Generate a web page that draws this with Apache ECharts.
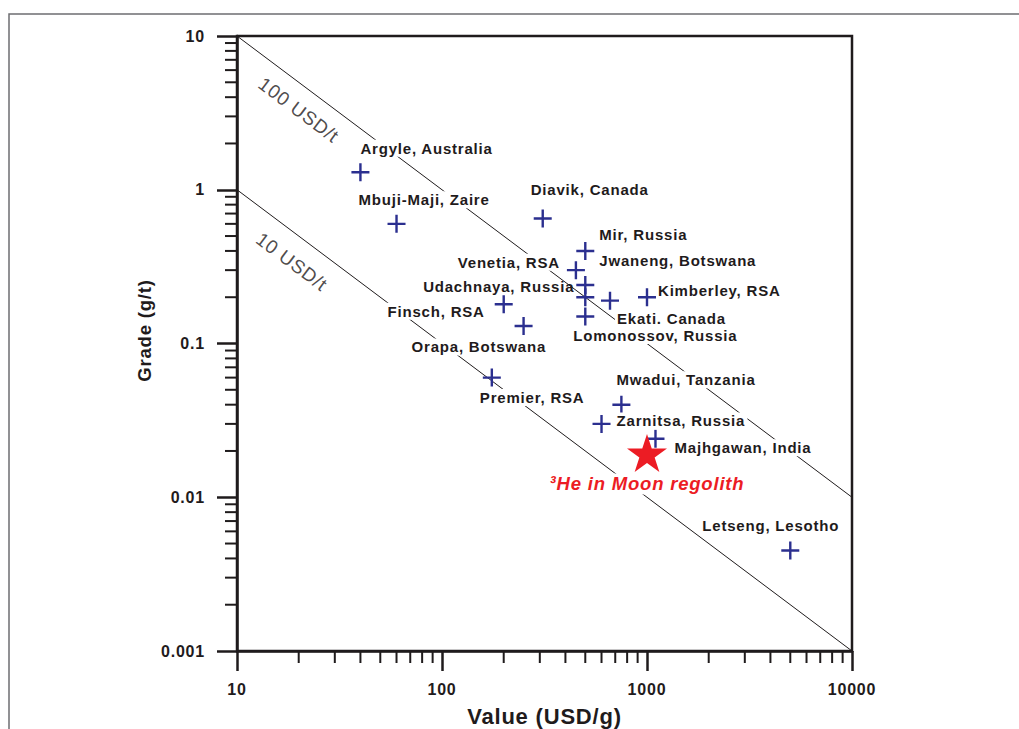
<!DOCTYPE html>
<html>
<head>
<meta charset="utf-8">
<title>Diamond mines: grade vs value</title>
<script src="https://cdn.jsdelivr.net/npm/echarts@6/dist/echarts.min.js"></script>
<style>
  html, body { margin: 0; padding: 0; background: #fff; }
  #chart { position: absolute; left: 0; top: 0; width: 1019px; height: 729px; }
  /* the typeface is set slightly tracked */
  #chart svg text { letter-spacing: 0.8px; }
</style>
</head>
<body>
<div id="chart"></div>
<script>
// ---- data -------------------------------------------------------------
const mineNames = [
  'Argyle, Australia', 'Mbuji-Maji, Zaire', 'Diavik, Canada', 'Mir, Russia',
  'Venetia, RSA', 'Jwaneng, Botswana', 'Udachnaya, Russia', 'Kimberley, RSA',
  'Ekati. Canada', 'Lomonossov, Russia', 'Finsch, RSA', 'Orapa, Botswana',
  'Premier, RSA', 'Mwadui, Tanzania', 'Zarnitsa, Russia', 'Majhgawan, India',
  'Letseng, Lesotho'
];
// value of the diamonds, USD per gram
const mineValue = [40, 60, 310, 500, 450, 500, 500, 1000, 660, 500, 200, 250, 175, 750, 600, 1100, 5000];
// ore grade, grams per tonne
const mineGrade = [1.3, 0.6, 0.65, 0.4, 0.3, 0.24, 0.2, 0.2, 0.19, 0.15, 0.18, 0.13, 0.06, 0.04, 0.03, 0.024, 0.0045];

const moonName = '³He in Moon regolith';
const moonValue = [1000];
const moonGrade = [0.02];

// iso-value lines (value x grade = USD per tonne of ore)
const isoNames = ['100 USD/t', '10 USD/t'];
const isoLines = [
  [[10, 10], [10000, 0.01]],
  [[10, 1], [10000, 0.001]]
];
const isoLabelAnchors = [[20, 3.3], [18.5, 0.34]];

const xTickLabels = ['10', '100', '1000', '10000'];
const yTickLabels = ['0.001', '0.01', '0.1', '1', '10'];
const minorMultiples = [2, 3, 4, 5, 6, 7, 8, 9];

// ---- layout & style ---------------------------------------------------
const INK = '#1f1b1c';
const CROSS_BLUE = '#2b2f8f';
const STAR_RED = '#ec1c24';
const FONT = '"Liberation Sans", Arial, Helvetica, sans-serif';
const TRACK = 0.8;

// label placement per mine: [dx, dy, align, knocks out lines behind it]
const mineLabelLayout = [
  [0, -24, 'left', true],
  [-38, -24, 'left', true],
  [-12, -29, 'left', true],
  [14, -16, 'left', true],
  [-16, -8, 'right', true],
  [14, -25, 'left', true],
  [-11, -11, 'right', false],
  [11, -7, 'left', true],
  [7, 18, 'left', true],
  [-12, 19, 'left', true],
  [-19, 7, 'right', true],
  [-112, 21, 'left', true],
  [-12, 20, 'left', true],
  [-5, -25, 'left', true],
  [15, -3, 'left', true],
  [19, 9, 'left', true],
  [-88, -25, 'left', true]
];

const CROSS_PATH = 'path://M7.8,0H10.2V7.8H18V10.2H10.2V18H7.8V10.2H0V7.8H7.8Z';
const STAR_PATH = 'path://M50,0L61.23,34.55L97.55,34.55L68.17,55.9L79.39,90.45L50,69.1L20.61,90.45L31.83,55.9L2.45,34.55L38.77,34.55Z';

function mineLabel(i) {
  const [dx, dy, align, knock] = mineLabelLayout[i];
  const extra = Math.round(mineNames[i].length * TRACK);
  const left = align === 'left';
  return {
    show: true,
    position: 'inside',
    align: align,
    verticalAlign: 'middle',
    offset: [left ? dx - 2 : dx + 2, dy],
    padding: left ? [1, extra + 2, 1, 2] : [1, 2, 1, extra + 2],
    backgroundColor: knock ? '#ffffff' : 'transparent',
    color: INK,
    fontFamily: FONT,
    fontWeight: 'bold',
    fontSize: 15,
    formatter: mineNames[i]
  };
}

const xMinor = [];
[10, 100, 1000].forEach(d => minorMultiples.forEach(m => xMinor.push(d * m)));
const yMinor = [];
[0.001, 0.01, 0.1, 1].forEach(d => minorMultiples.forEach(m => yMinor.push(d * m)));

const xMin = 10, xMax = 10000, yMin = 0.001, yMax = 10;

function tickLabel(list, v) {
  const idx = Math.round(Math.log10(v) - Math.log10(Number(list[0])));
  return list[idx] !== undefined ? list[idx] : '';
}

const axisCommon = {
  type: 'log',
  logBase: 10,
  axisLine: { show: true, lineStyle: { color: INK, width: 2.5 } },
  axisTick: { show: true, inside: false, length: 20, lineStyle: { color: INK, width: 2.5 } },
  splitLine: { show: false },
  minorTick: { show: false },
  nameLocation: 'middle',
  nameTextStyle: { color: INK, fontFamily: FONT, fontWeight: 'bold' }
};

const chart = echarts.init(document.getElementById('chart'), null, { renderer: 'svg' });

chart.setOption({
  animation: false,
  backgroundColor: '#ffffff',
  grid: {
    left: 237, top: 36, width: 615, height: 615,
    outerBoundsMode: 'none',
    containLabel: false,
    show: true, borderColor: INK, borderWidth: 2.5, backgroundColor: 'transparent'
  },
  graphic: [{
    type: 'polyline',
    silent: true,
    shape: { points: [[9, 729], [9, 14], [1019, 14]] },
    style: { stroke: '#6d6e71', lineWidth: 1.5, fill: null }
  }],
  xAxis: Object.assign({}, axisCommon, {
    min: xMin, max: xMax,
    name: 'Value (USD/g)',
    nameGap: 54,
    nameTextStyle: Object.assign({}, axisCommon.nameTextStyle, { fontSize: 22 }),
    axisLabel: {
      margin: 30, color: INK, fontFamily: FONT, fontWeight: 'bold', fontSize: 16,
      formatter: v => tickLabel(xTickLabels, v)
    }
  }),
  yAxis: Object.assign({}, axisCommon, {
    min: yMin, max: yMax,
    name: 'Grade (g/t)',
    nameGap: 82,
    nameTextStyle: Object.assign({}, axisCommon.nameTextStyle, { fontSize: 18.5, padding: [0, 0, 0, 26] }),
    axisLabel: {
      margin: 32, color: INK, fontFamily: FONT, fontWeight: 'bold', fontSize: 16,
      formatter: v => tickLabel(yTickLabels, v)
    }
  }),
  series: [
    // iso-value lines
    ...isoLines.map((pts, k) => ({
      type: 'line',
      name: isoNames[k],
      data: pts,
      showSymbol: false,
      silent: true,
      z: 1,
      lineStyle: { color: INK, width: 1 }
    })),
    // their captions, running along the lines
    {
      type: 'scatter',
      silent: true,
      z: 2,
      symbolSize: 1,
      itemStyle: { color: 'transparent' },
      data: isoLabelAnchors.map((p, k) => ({ value: p, name: isoNames[k] })),
      label: {
        show: true,
        position: 'inside',
        align: 'center',
        verticalAlign: 'middle',
        rotate: -36.87,
        color: INK,
        fontFamily: FONT,
        fontSize: 19,
        formatter: p => p.name
      }
    },
    // minor ticks on the value axis
    {
      type: 'custom',
      silent: true,
      clip: false,
      z: 6,
      data: xMinor.map(v => [v, yMin]),
      encode: { x: 0, y: 1 },
      renderItem: (params, api) => {
        const p = api.coord([api.value(0), api.value(1)]);
        return { type: 'line', shape: { x1: p[0], y1: p[1], x2: p[0], y2: p[1] + 12 },
                 style: { stroke: INK, lineWidth: 2 } };
      }
    },
    // minor ticks on the grade axis
    {
      type: 'custom',
      silent: true,
      clip: false,
      z: 6,
      data: yMinor.map(v => [xMin, v]),
      encode: { x: 0, y: 1 },
      renderItem: (params, api) => {
        const p = api.coord([api.value(0), api.value(1)]);
        return { type: 'line', shape: { x1: p[0] - 12, y1: p[1], x2: p[0], y2: p[1] },
                 style: { stroke: INK, lineWidth: 2 } };
      }
    },
    // diamond mines
    {
      type: 'scatter',
      name: 'Mines',
      z: 3,
      symbol: CROSS_PATH,
      symbolSize: 18,
      itemStyle: { color: CROSS_BLUE, opacity: 1 },
      data: mineValue.map((v, i) => ({
        name: mineNames[i],
        value: [v, mineGrade[i]],
        label: mineLabel(i)
      }))
    },
    // helium-3 in lunar regolith
    {
      type: 'scatter',
      name: moonName,
      z: 4,
      symbol: STAR_PATH,
      symbolSize: [40, 38],
      symbolOffset: [0, 2],
      itemStyle: { color: STAR_RED, opacity: 1 },
      data: moonValue.map((v, i) => ({ name: moonName, value: [v, moonGrade[i]] })),
      label: {
        show: true,
        position: 'inside',
        align: 'center',
        verticalAlign: 'middle',
        offset: [0, 31],
        backgroundColor: '#ffffff',
        padding: [1, 10, 1, 10],
        color: STAR_RED,
        fontFamily: FONT,
        fontWeight: 'bold',
        fontStyle: 'italic',
        fontSize: 18.5,
        formatter: p => p.name
      }
    }
  ]
});
</script>
</body>
</html>
